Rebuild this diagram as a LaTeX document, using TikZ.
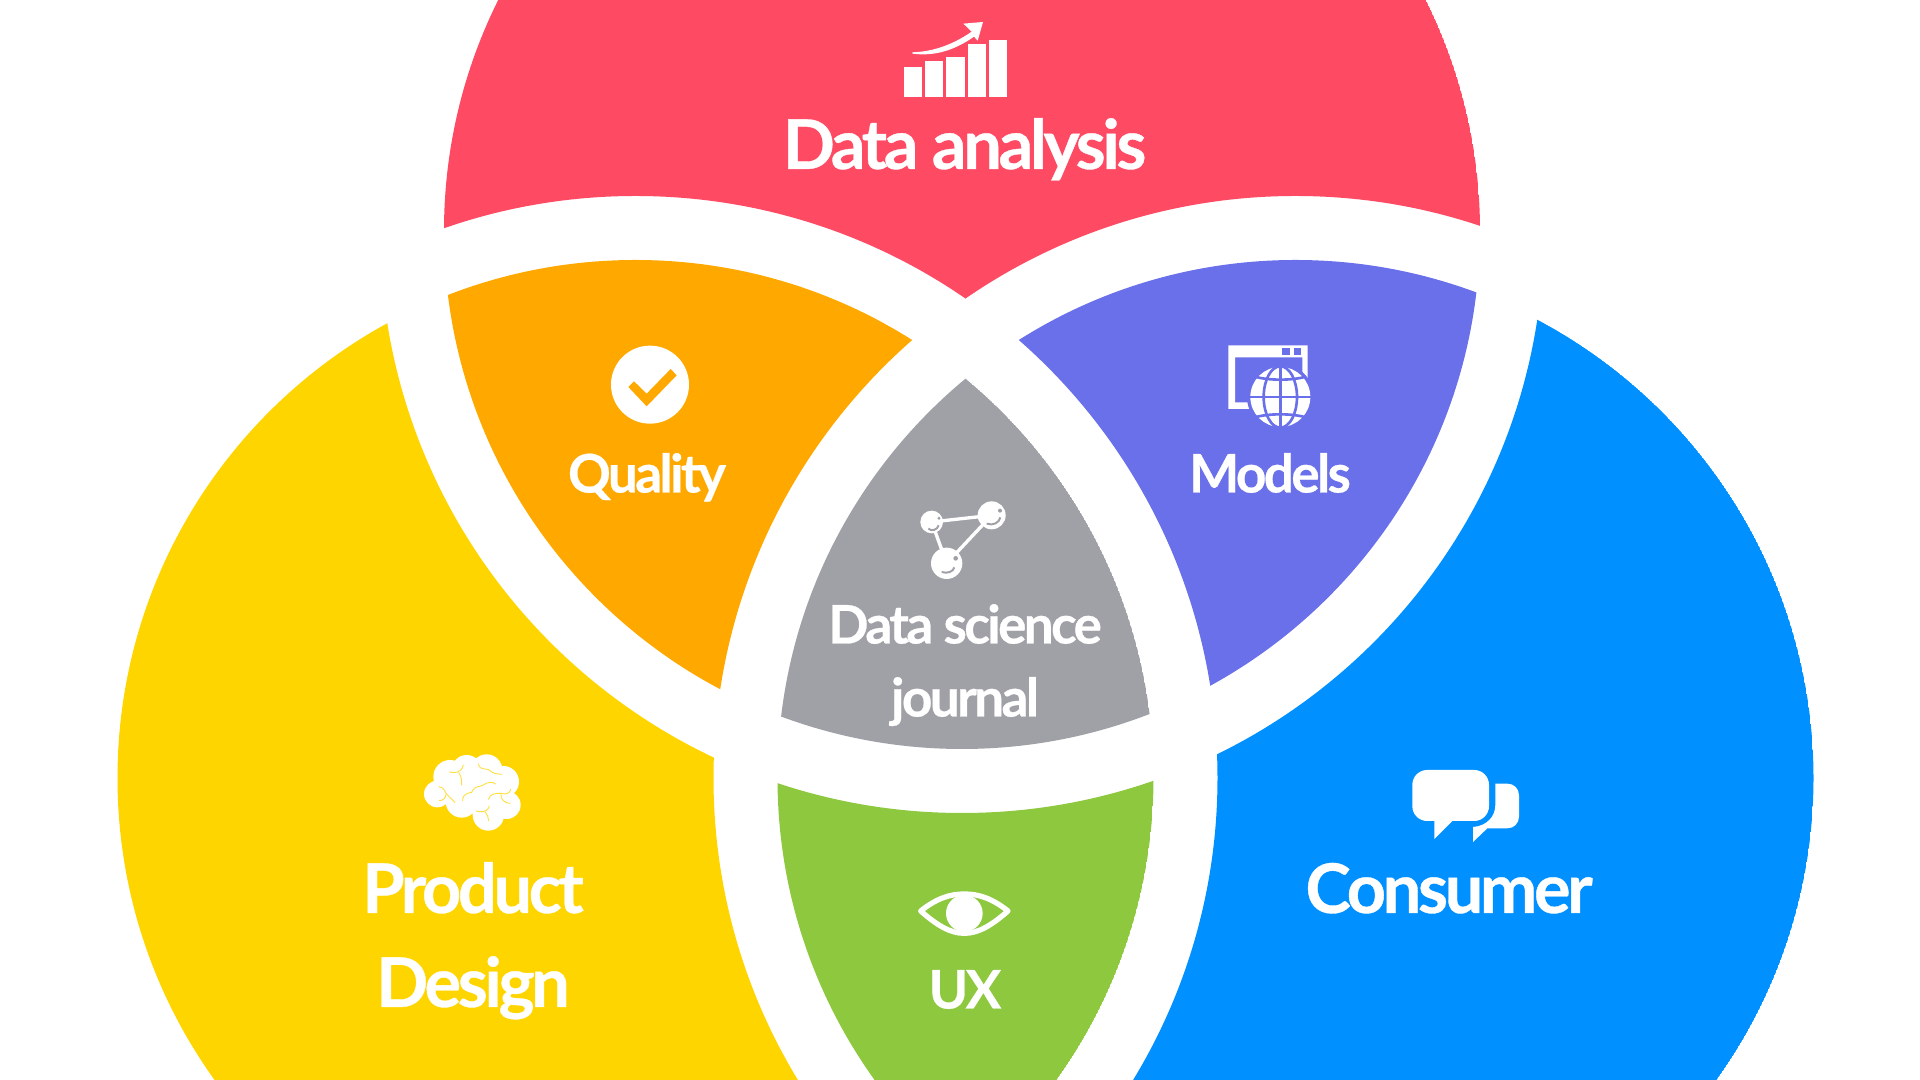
\documentclass[tikz,border=0pt]{standalone}
\usepackage{fontspec}
\setmainfont{Lato}
\newfontfamily\labelfont{Lato}[LetterSpace=-5,BoldFont={Lato Bold},BoldFeatures={FakeBold=0.5}]
\definecolor{redpart}{HTML}{FF4A64}
\definecolor{orangepart}{HTML}{FFA800}
\definecolor{yellowpart}{HTML}{FFD500}
\definecolor{violetpart}{HTML}{6A6FEA}
\definecolor{bluepart}{HTML}{0090FF}
\definecolor{greenpart}{HTML}{8DC83F}
\definecolor{graypart}{HTML}{9FA1A6}
\newcommand{\keepin}[1]{\clip (#1) circle (518);}
\newcommand{\keepout}[1]{\pgfseteorule\clip (-50,-50) rectangle (1970,1130) (#1) circle (582);\pgfsetnonzerorule}
\tikzset{
  biglabel/.style={text=white,anchor=base,font=\labelfont\bfseries\fontsize{19.5}{20}\selectfont,inner sep=0pt},
  smalllabel/.style={text=white,anchor=base,font=\labelfont\bfseries\fontsize{15.1}{16}\selectfont,inner sep=0pt},
  iconscale/.style={shift={#1},scale=1/3},
  vein/.style={draw=yellowpart!75!white,line width=0.25pt,line cap=round}
}
\begin{document}
\begin{tikzpicture}[x=0.01cm,y=-0.01cm]
    \useasboundingbox (0,0) rectangle (1920,1080);
    \clip (0,0) rectangle (1920,1080);
    \coordinate (lefty) at (635.5,778);
    \coordinate (righty) at (1295.5,778);
    \coordinate (toppy) at (962,231);
    % the seven parts
    \begin{scope} \keepin{toppy} \keepout{lefty} \keepout{righty}
      \fill [redpart] (toppy) circle (518); \end{scope}
    \begin{scope} \keepin{lefty} \keepout{toppy} \keepout{righty}
      \fill [yellowpart] (lefty) circle (518); \end{scope}
    \begin{scope} \keepin{righty} \keepout{toppy} \keepout{lefty}
      \fill [bluepart] (righty) circle (518); \end{scope}
    \begin{scope} \keepin{lefty} \keepin{toppy} \keepout{righty}
      \fill [orangepart] (lefty) circle (518); \end{scope}
    \begin{scope} \keepin{righty} \keepin{toppy} \keepout{lefty}
      \fill [violetpart] (righty) circle (518); \end{scope}
    \begin{scope} \keepin{lefty} \keepin{righty} \keepout{toppy}
      \fill [greenpart] (lefty) circle (518); \end{scope}
    \begin{scope} \keepin{lefty} \keepin{righty} \keepin{toppy}
      \fill [graypart] (lefty) circle (518); \end{scope}
    % labels
    \node [biglabel] (dataanalysis) at (964.5,169) {Data analysis};
    \node [smalllabel] (quality) at (647,492.5) {Quality};
    \node [smalllabel] (models) at (1270,492.5) {Models};
    \node [smalllabel] (datascience) at (965,643.5) {Data science};
    \node [smalllabel] (journal) at (965,716.5) {journal};
    \node [biglabel] (product) at (473,913) {Product};
    \node [biglabel] (design) at (473,1007) {Design};
    \node [biglabel] (consumer) at (1449,913) {Consumer};
    \node [smalllabel] (ux) at (965,1008.5) {UX};
    % chart
    \begin{scope}[iconscale={(860,0)}]
      \fill [white] (131,200) rectangle (186,291);
      \fill [white] (195,183) rectangle (250,291);
      \fill [white] (259,172) rectangle (314,291);
      \fill [white] (323,131) rectangle (378,291);
      \fill [white] (387,120) rectangle (441,291);
      \fill [white] (157,157) .. controls (225,155) and (285,130) .. (335,95) -- (310,71) -- (369,66) -- (353,122) -- (342,110)
        .. controls (285,150) and (225,170) .. (157,161) -- cycle;
    \end{scope}
    % check
    \begin{scope}[iconscale={(560,320)}]
      \fill [white] (270,194) circle (117);
      \fill [orangepart] (205,201) -- (222,184) -- (260,221) -- (332,147) -- (350,166) -- (260,259) -- cycle;
    \end{scope}
    % window and globe
    \begin{scope}[iconscale={(1200,320)}]
      \fill [white,even odd rule] (85,76) rectangle (323,267) (105,112) rectangle (307,247);
      \fill [violetpart] (247,84) rectangle (269,104);
      \fill [violetpart] (282,84) rectangle (303,104);
      \fill [violetpart] (241,231) circle (100);
      \fill [white] (241,231) circle (90);
      \draw [violetpart,line width=0.75pt] (241,135) -- (241,325);
      \draw [violetpart,line width=0.75pt] (145,231) -- (335,231);
      \draw [violetpart,line width=0.75pt] (241,231) ellipse (50 and 92);
      \draw [violetpart,line width=0.75pt] (165,170) .. controls (205,182) and (277,182) .. (317,170);
      \draw [violetpart,line width=0.75pt] (165,292) .. controls (205,280) and (277,280) .. (317,292);
    \end{scope}
    % molecule
    \begin{scope}[iconscale={(890,480)}]
      \coordinate (atoma) at (125,126);
      \coordinate (atomb) at (305,106);
      \coordinate (atomc) at (170,250);
      \draw [white,line width=0.95pt] (atoma) -- (atomb) -- (atomc) -- cycle;
      \fill [white] (atoma) circle (34);
      \fill [white] (atomb) circle (42);
      \fill [white] (atomc) circle (47);
      \fill [graypart] (147,115) circle (5);
      \fill [graypart] (330,92) circle (6);
      \fill [graypart] (197,235) circle (7);
      \draw [graypart,line width=0.55pt] (115,146) .. controls (125,155) and (142,150) .. (146,136);
      \draw [graypart,line width=0.55pt] (290,131) .. controls (310,138) and (328,128) .. (331,112);
      \draw [graypart,line width=0.55pt] (155,276) .. controls (172,282) and (190,275) .. (193,262);
    \end{scope}
    % brain
    \begin{scope}[iconscale={(400,730)}]
      \fill [white] (112,192) circle (40) (150,140) circle (50) (200,120) circle (45) (260,120) circle (47)
        (310,155) circle (47) (320,225) circle (42) (265,255) circle (47) (185,215) circle (48) (230,180) circle (70);
      \draw [vein] (148,126) .. controls (160,130) and (185,130) .. (190,105);
      \draw [vein] (176,128) .. controls (185,140) and (185,150) .. (185,165);
      \draw [vein] (235,102) .. controls (240,125) and (265,112) .. (270,122) .. controls (280,132) and (295,132) .. (305,133);
      \draw [vein] (117,170) .. controls (135,172) and (135,190) .. (140,192) .. controls (150,205) and (160,210) .. (165,218);
      \draw [vein] (138,192) .. controls (138,205) and (128,212) .. (118,212);
      \draw [vein] (188,212) .. controls (188,190) and (205,190) .. (215,187) .. controls (225,165) and (240,172) .. (250,165) .. controls (262,155) and (280,155) .. (287,162);
      \draw [vein] (265,208) .. controls (272,190) and (285,190) .. (303,190) .. controls (318,195) and (330,190) .. (332,178);
      \draw [vein] (303,192) .. controls (300,208) and (315,220) .. (330,220);
      \draw [vein] (228,243) .. controls (240,246) and (262,250) .. (268,228);
      \draw [vein] (255,245) .. controls (262,252) and (265,262) .. (266,272);
    \end{scope}
    % speech bubbles
    \begin{scope}[iconscale={(1390,750)}]
      \fill [white,rounded corners=4.2pt] (67,60) rectangle (297,213);
      \fill [white] (133,205) -- (133,267) -- (188,212) -- cycle;
      \fill [white] (316,101) -- (352,101) .. controls (372,101) and (387,116) .. (387,136) -- (387,200)
        .. controls (387,220) and (372,235) .. (352,235) -- (292,235) -- (249,276) -- (249,231)
        .. controls (290,228) and (316,200) .. (316,165) -- cycle;
    \end{scope}
    % eye
    \begin{scope}[iconscale={(900,870)}]
      \draw [white,line width=1.5pt,line join=round] (62,123) .. controls (110,85) and (150,72) .. (193,72)
        .. controls (236,72) and (276,85) .. (324,123) .. controls (276,165) and (236,190) .. (193,190)
        .. controls (150,190) and (110,165) .. (62,123) -- cycle;
      \fill [white] (193,130) circle (55);
    \end{scope}
\end{tikzpicture}
\end{document}
